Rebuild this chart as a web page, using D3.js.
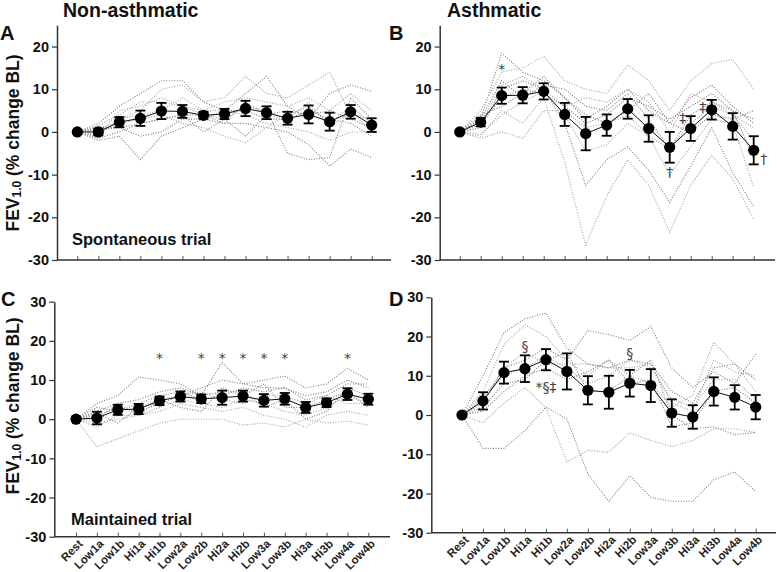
<!DOCTYPE html>
<html><head><meta charset="utf-8">
<script src="https://cdn.jsdelivr.net/npm/d3@7"></script>
<style>body{margin:0;background:#fff} svg{display:block} text{font-family:Arial,"Liberation Sans",sans-serif}</style>
</head><body><svg id="c" width="777" height="572"></svg>
<script>
const categories = ["Rest","Low1a","Low1b","Hi1a","Hi1b","Low2a","Low2b","Hi2a","Hi2b","Low3a","Low3b","Hi3a","Hi3b","Low4a","Low4b"];
const yTicksAB = [-30,-20,-10,0,10,20];
const yTicksCD = [-30,-20,-10,0,10,20,30];

const meanA = [0,0,2.3,3.2,4.9,4.8,3.9,4.2,5.5,4.5,3.2,4.1,2.4,4.7,1.6];
const seA   = [0,0.8,1.2,1.8,1.9,1.5,0.8,1.2,1.8,1.5,1.5,2.1,2.1,1.6,1.6];
const meanB = [0,2.3,8.5,8.6,9.5,4.1,-0.4,1.6,5.4,0.8,-3.6,0.8,5.2,1.3,-4.3];
const seB   = [0,1.0,1.9,1.9,1.9,2.7,3.9,2.5,2.3,3.1,3.6,2.9,2.3,3.1,3.3];
const meanC = [0,0.3,2.4,2.6,4.7,5.8,5.2,5.5,5.9,4.8,5.2,3.0,4.2,6.4,5.1];
const seC   = [0,1.6,1.3,1.3,1.1,1.3,1.1,1.8,1.4,1.6,1.5,1.4,1.1,1.5,1.4];
const meanD = [0,3.6,10.8,11.8,14.1,11.1,6.3,5.8,8.1,7.5,0.5,-0.5,6.0,4.5,2.0];
const seD   = [0,2.2,2.8,3.4,2.7,4.6,3.6,4.2,3.4,4.2,3.5,3.0,3.6,3.1,3.1];

const indivA = [
 [0,2,6,9,12,12,7,5,9,13,6,3,9,11,9.5],
 [0,-1,3,5,10,11,7,8,13,9,8,11,14,4,3],
 [0,-2,-1,-6.5,-1,1,3,2,2,1,0,-3,-8,-4,-6],
 [0,1,2,3,4,2,1,-1,-2.5,1,4,6,2,6,2],
 [0,-1.5,0,2,3,4,4,3,6,5,-5,-6.5,-6,8,3],
 [0,1.5,4,7,7,6,5,7,8,7,6,8,5,9,5],
 [0,0.5,1,-1,0,3,3,5,5,3,3,5,3,2,-1],
 [0,-0.5,3,4,5,8,5,5,4,2,1,0,-2,0,0],
 [0,1,1,2,3,4,0,3,-1,4,5,4,5,3,1],
 [0,-1,5,6,8,6,4,2,7,4,3,7,1,5,0]
];
const indivB = [
 [0,3,18.5,14,12,8,3,6,10,5,2,8,11,6,2],
 [0,5,14,15,17.7,12,10,9,15.7,12,5,12,16,17,10],
 [0,1,10,12,10,2,-12.5,-6.5,-3.5,-9,-16.5,-8,1,-9.5,-17.5],
 [0,-1,5,2,8,-7,-26.5,-15,-6.5,-12.5,-23.5,-12.5,-5.5,-11,-20.5],
 [0,2,8,10,9,6,2,4,8,6,3,6,9,5,3],
 [0,-1.5,0,-1.5,5,5,1,2,4,-1,-4,2,6,4,-2],
 [0,3,12,8,11,10,6,5,9,3,-4,4,7,5,-6],
 [0,-0.5,4,7,9.5,4,-4.5,-3,2,-1,-10,-3.5,3,2,-13],
 [0,4,6,9,13,8,4,2,5,9,2,0,4,3,5],
 [0,2,11,13,10,6,8,7,10,7,0,9,7,4,1]
];
const indivC = [
 [0,4,6,10.8,10,9,6,14.5,9,10,11,8,9,13,10],
 [0,-7,-5,-3,-1,0,0,0,-1.5,-1,-2,0,-1,-0.5,-1.5],
 [0,1,3,2,4,6,8,10,9,8,8,6,7,10,8],
 [0,-2,1,1,3,5,4,3,5,4,2,1,3,6,4],
 [0,2,4,5,7,8,6,7,7,3,5,0,2,8,6],
 [0,-1,0,1,2,4,3,2,3,1,0,-2,1,2,1],
 [0,3,2,4,6,7,5,6,8,7,8,5,6,9,9],
 [0,0,4,1,5,6,7,5,4,6,6,4,6,4,4],
 [0,1.5,-1,3,5,3,2,8,6,9,3,3,5,7,3]
];
const indivD = [
 [0,10,21,24.5,26,17,13,12,14,13,6,3,12,13,9],
 [0,6,18,23,20,14,10,14,10,8,2,5,18.5,13,6],
 [0,-8.5,-8.5,-4,2,-1,-15,-22,-15.5,-21,-22,-22,-16.5,-14.5,-19.5],
 [0,-2,3,7,1.8,-12,-9,-9.5,-4.5,-6.5,-8,-6.5,-3.5,-3.5,-4.5],
 [0,3,12,14,17,14,21.5,20.5,19,22.5,12,7,11,8,15.5],
 [0,5,10,12,15,12,8,10,14,12,4,2,9,9,4],
 [0,2,8,9,14,16,6,6,10,14,0,-3.5,-3,-5,-4.5],
 [0,4,12,16,13,13,13,12,12,13,3,1,14,11,10],
 [0,1,6,10,12,9,11,14,8,9,-3,-2,6,7,3]
];
// annotations: [category, value, text, dx]
const annotB = [["Low1b",14.6,"*",0],["Low3b",-9.3,"\u2020",0],["Hi3a",3.3,"\u2021",-8],["Hi3b",5.9,"\u2021",-9],["Low4b",-6.4,"\u2020",10]];
const annotC = [["Hi1b",15.5,"*",0],["Low2b",15.5,"*",0],["Hi2a",15.5,"*",0],["Hi2b",15.5,"*",0],["Low3a",15.5,"*",0],["Low3b",15.5,"*",0],["Low4a",15.5,"*",0]];
const annotD = [["Hi1a",17.5,"\u00a7",0],["Hi2b",15.8,"\u00a7",0],["Hi1b",7.0,"*\u00a7\u2021",0]];

const svg = d3.select("#c");

const panels = [
 {mean:meanA,se:seA,indiv:indivA,annot:[],ax:57,x0:77.3,x1:371.7,xEnd:391,dom:[-30,25],r:[260,25.2],ticks:yTicksAB,xl:false},
 {mean:meanB,se:seB,indiv:indivB,annot:annotB,ax:439.7,x0:459.7,x1:753.7,xEnd:775,dom:[-30,25],r:[260,25.2],ticks:yTicksAB,xl:false},
 {mean:meanC,se:seC,indiv:indivC,annot:annotC,ax:54.3,x0:76,x1:368.3,xEnd:390,dom:[-30,30],r:[536.7,301.7],ticks:yTicksCD,xl:true},
 {mean:meanD,se:seD,indiv:indivD,annot:annotD,ax:431.3,x0:462,x1:755.7,xEnd:776,dom:[-30,30],r:[532.7,297.3],ticks:yTicksCD,xl:true}
];

panels.forEach(p=>{
  const x = d3.scalePoint().domain(categories).range([p.x0,p.x1]);
  const y = d3.scaleLinear().domain(p.dom).range(p.r);
  const g = svg.append("g");
  const line = d3.line().x((d,i)=>x(categories[i])).y(d=>y(d));
  p.indiv.forEach((s,k)=>{
    g.append("path").attr("d",line(s)).attr("fill","none")
     .attr("stroke", k%2? "#a0a0a0":"#7a7a7a").attr("stroke-width",1.1)
     .attr("stroke-dasharray","1,1.6");
  });
  const ya = d3.axisLeft(y).tickValues(p.ticks).tickSizeInner(5).tickSizeOuter(0).tickFormat(d=>String(d));
  const yg = g.append("g").attr("transform",`translate(${p.ax},0)`).call(ya);
  yg.select(".domain").attr("stroke","#333").attr("stroke-width",1.5);
  yg.selectAll(".tick line").attr("stroke","#333").attr("stroke-width",1.2);
  yg.selectAll(".tick text").attr("font-size",14.5).attr("font-weight","bold").attr("fill","#111").attr("x",-8);
  const xa = d3.axisBottom(x).tickSizeInner(-4).tickSizeOuter(0).tickFormat(p.xl? d=>d : ()=>"");
  const xg = g.append("g").attr("transform",`translate(0,${p.r[0]})`).call(xa);
  xg.select(".domain").remove();
  xg.append("line").attr("x1",p.ax).attr("x2",p.xEnd).attr("stroke","#333").attr("stroke-width",1.5);
  xg.selectAll(".tick line").attr("stroke","#555").attr("stroke-width",1);
  if(p.xl){
    xg.selectAll(".tick text").attr("font-size",11.5).attr("font-weight","bold").attr("fill","#222")
      .attr("text-anchor","end").attr("x",0).attr("y",0).attr("dy","0.35em")
      .attr("transform","translate(4,5) rotate(-45)");
  }
  g.append("path").attr("d",line(p.mean)).attr("fill","none").attr("stroke","#111").attr("stroke-width",1);
  const eb = g.append("g");
  p.mean.forEach((m,i)=>{
    if(p.se[i]<=0) return;
    const cx = x(categories[i]);
    eb.append("line").attr("x1",cx).attr("x2",cx).attr("y1",y(m-p.se[i])).attr("y2",y(m+p.se[i])).attr("stroke","#000").attr("stroke-width",1.8);
    [m-p.se[i],m+p.se[i]].forEach(v=>eb.append("line").attr("x1",cx-5).attr("x2",cx+5).attr("y1",y(v)).attr("y2",y(v)).attr("stroke","#000").attr("stroke-width",1.8));
  });
  g.selectAll("circle.m").data(p.mean).join("circle").attr("class","m")
    .attr("cx",(d,i)=>x(categories[i])).attr("cy",d=>y(d)).attr("r",5.6).attr("fill","#000");
  p.annot.forEach(a=>{
    g.append("text").attr("x",x(a[0])+a[3]).attr("y",y(a[1])).attr("text-anchor","middle").attr("dy","0.35em")
     .attr("font-size",14).attr("fill","#444").style("font-family","'DejaVu Sans',sans-serif").text(a[2]);
  });
});

const T = (x,y,t,s)=>svg.append("text").attr("x",x).attr("y",y).attr("font-size",s).attr("font-weight","bold").attr("fill","#111").text(t);
T(63,17,"Non-asthmatic",19.5);
T(447,17,"Asthmatic",19.5);
T(0,40,"A",20); T(389,40,"B",20);
T(1,306,"C",20); T(389,306,"D",20);
T(72,245,"Spontaneous trial",16.5);
T(71,525,"Maintained trial",16.5);
[143,406].forEach(cy=>{
  const t = svg.append("text").attr("transform",`translate(19,${cy}) rotate(-90)`).attr("text-anchor","middle")
    .attr("font-size",17.5).attr("font-weight","bold").attr("fill","#111");
  t.append("tspan").text("FEV");
  t.append("tspan").attr("font-size",12).attr("dy",2).text("1.0");
  t.append("tspan").attr("dy",-2).text(" (% change BL)");
});
</script></body></html>
